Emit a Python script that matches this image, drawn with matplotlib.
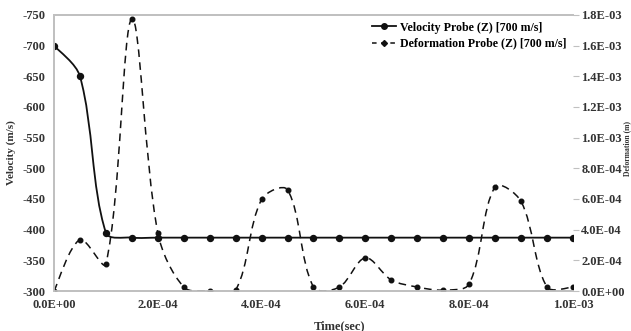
import matplotlib.pyplot as plt
from matplotlib.path import Path
from matplotlib.patches import PathPatch
from matplotlib.lines import Line2D

# data (time step 5E-05 s)
time = [0.0, 5e-5, 1e-4, 1.5e-4, 2e-4, 2.5e-4, 3e-4, 3.5e-4, 4e-4, 4.5e-4, 5e-4,
        5.5e-4, 6e-4, 6.5e-4, 7e-4, 7.5e-4, 8e-4, 8.5e-4, 9e-4, 9.5e-4, 1e-3]
velocity = [-700, -650, -395, -387, -387, -387, -387, -387, -387, -387, -387,
            -387, -387, -387, -387, -387, -387, -387, -387, -387, -387]
deformation = [0.0, 3.35e-4, 1.77e-4, 1.776e-3, 3.8e-4, 2.6e-5, 0.0, 6e-6, 5.97e-4, 6.6e-4, 2.6e-5,
               2.6e-5, 2.16e-4, 7.2e-5, 2.6e-5, 6e-6, 4.6e-5, 6.8e-4, 5.84e-4, 2.6e-5, 2.6e-5]

vel_ticks = list(range(-750, -299, 50))
def_ticks = [i * 2e-4 for i in range(10)]
time_ticks = [i * 2e-4 for i in range(6)]

FONT = 'Liberation Serif'
TXT = '#333333'
GRAY = '#c0c0c0'


def smooth_path(xs, ys, sx, sy):
    # bezier segments like excel "smoothed line"; tangents are scaled by
    # segment length measured on screen (sx, sy = pixels per data unit)
    n = len(xs)
    px = [x * sx for x in xs]
    py = [y * sy for y in ys]
    seg = [((px[i + 1] - px[i]) ** 2 + (py[i + 1] - py[i]) ** 2) ** 0.5 for i in range(n - 1)]
    verts = [(xs[0], ys[0])]
    codes = [Path.MOVETO]
    for i in range(n - 1):
        a = max(i - 1, 0)
        b = min(i + 2, n - 1)
        l0 = seg[i - 1] if i > 0 else seg[i]
        l2 = seg[i + 1] if i < n - 2 else seg[i]
        f1 = seg[i] / (l0 + seg[i]) / 3
        f2 = seg[i] / (seg[i] + l2) / 3
        c1 = (px[i] + (px[i + 1] - px[a]) * f1, py[i] + (py[i + 1] - py[a]) * f1)
        c2 = (px[i + 1] - (px[b] - px[i]) * f2, py[i + 1] - (py[b] - py[i]) * f2)
        verts += [(c1[0] / sx, c1[1] / sy), (c2[0] / sx, c2[1] / sy), (xs[i + 1], ys[i + 1])]
        codes += [Path.CURVE4] * 3
    return Path(verts, codes)


fig = plt.figure(figsize=(6.31, 3.31), dpi=100)
ax1 = fig.add_axes([0.0856, 0.1208, 0.8224, 0.834])
ax2 = ax1.twinx()

sx = 519 / 1e-3

# velocity (left axis, inverted)
ax1.add_patch(PathPatch(smooth_path(time, velocity, sx, 276 / 450), fill=False,
                        edgecolor='#111111', linewidth=1.3, transform=ax1.transData))
ax1.plot(time, velocity, linestyle='none', marker='o', markersize=4.3, color='#111111')
ax1.set_xlim(0, 1e-3)
ax1.set_ylim(-300, -750)
ax1.set_yticks(vel_ticks)
ax1.set_yticklabels([str(v) for v in vel_ticks])
ax1.set_xticks(time_ticks)
ax1.set_xticklabels(['%.1E' % t for t in time_ticks])

# deformation (right axis)
ax2.add_patch(PathPatch(smooth_path(time, deformation, sx, 276 / 1.8e-3), fill=False,
                        edgecolor='#111111', linewidth=1.1, linestyle=(0, (5, 3.5)),
                        transform=ax2.transData))
ax2.plot(time, deformation, linestyle='none', marker='o', markersize=3.3, color='#111111')
ax2.set_ylim(0, 1.8e-3)
ax2.set_yticks(def_ticks)
ax2.set_yticklabels(['%.1E' % d for d in def_ticks])

for ax in (ax1, ax2):
    for s in ax.spines.values():
        s.set_color(GRAY)
        s.set_linewidth(1.3)
    ax.spines['right'].set_visible(False)
    ax.tick_params(labelsize=9, colors=TXT, labelfontfamily=FONT)
    for lab in ax.get_xticklabels() + ax.get_yticklabels():
        lab.set_fontweight('bold')
ax1.tick_params(axis='both', length=0, pad=6)
ax2.tick_params(axis='y', length=4, color=GRAY, pad=2)

ax1.set_xlabel('Time(sec)', fontsize=9, fontweight='bold', family=FONT, color=TXT, labelpad=9)
ax1.xaxis.set_label_coords(0.551, -0.105)
ax1.set_ylabel('Velocity (m/s)', fontsize=8, fontweight='bold', family=FONT, color=TXT, labelpad=5)
# right axis title sits at the very edge of the picture
fig.text(0.994, 0.55, 'Deformation (m)', rotation=90, ha='center', va='center',
         fontsize=5.5, fontweight='bold', family=FONT, color=TXT)

handles = [Line2D([], [], color='#111111', linewidth=1.3, marker='o', markersize=4),
           Line2D([], [], color='#111111', linewidth=1.1, linestyle=(0, (3, 3)), marker='D', markersize=3)]
ax1.legend(handles, ['Velocity Probe (Z) [700 m/s]', 'Deformation Probe (Z) [700 m/s]'],
           loc='upper right', frameon=False, handlelength=2.0, handletextpad=0.3,
           borderaxespad=0.15, labelspacing=0.35,
           prop={'family': FONT, 'weight': 'bold', 'size': 8.6})

fig.savefig('out.png', dpi=100)
plt.close()
